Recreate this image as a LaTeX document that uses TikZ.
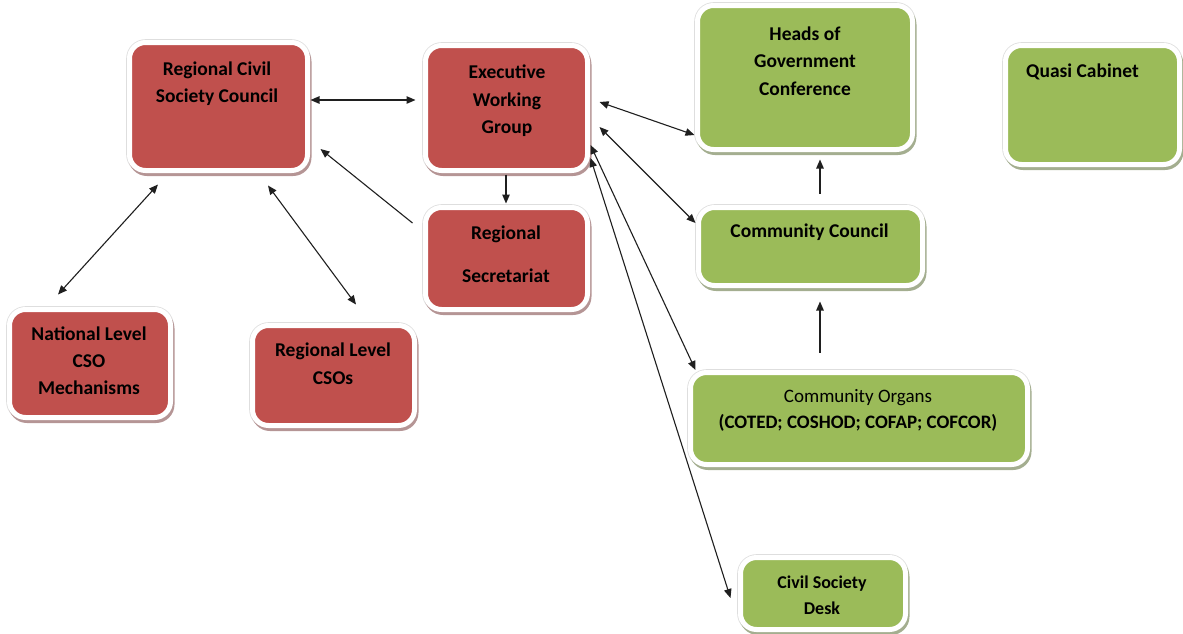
\documentclass[tikz,border=0pt]{standalone}
\usepackage{fontspec}
\setmainfont{Carlito}
\usetikzlibrary{calc,arrows.meta,shadows}
\definecolor{boxred}{HTML}{C0504D}
\definecolor{boxgreen}{HTML}{9BBB59}
\definecolor{shred}{HTML}{B59595}
\definecolor{shgreen}{HTML}{A4AE90}
\begin{document}
\begin{tikzpicture}[x=1pt,y=-1pt,
  box/.style={rounded corners=16pt, draw=white, line width=5pt, inner sep=0pt,
    preaction={draw=black!13, line width=6.6pt}},
  redbox/.style={box, fill=boxred,
    drop shadow={shadow xshift=1.5pt, shadow yshift=-3pt, fill=shred, draw=shred, line width=5pt, opacity=1}},
  greenbox/.style={box, fill=boxgreen,
    drop shadow={shadow xshift=1.5pt, shadow yshift=-3pt, fill=shgreen, draw=shgreen, line width=5pt, opacity=1}},
  lbl/.style={font=\bfseries\fontsize{19.5}{27.5}\selectfont, align=center, inner sep=0pt, text=black},
  conn/.style={line width=1.1pt, draw=black!88},
  >={Triangle[length=9pt,width=7.5pt]}
]
\useasboundingbox (0,0) rectangle (1183,633);

% boxes
\node[redbox, minimum width=178pt, minimum height=128pt] (rcsc) at (218.5,106.5) {};
\node[redbox, minimum width=162pt, minimum height=125pt] (ewg) at (506.5,108) {};
\node[redbox, minimum width=162pt, minimum height=102pt] (regsec) at (506.5,258.5) {};
\node[redbox, minimum width=161pt, minimum height=108pt] (nat) at (90,363.5) {};
\node[redbox, minimum width=162pt, minimum height=100pt] (rlc) at (333.5,375.5) {};
\node[greenbox, minimum width=215pt, minimum height=144pt] (heads) at (805,77.5) {};
\node[greenbox, minimum width=174pt, minimum height=119pt] (quasi) at (1092.5,105) {};
\node[greenbox, minimum width=224pt, minimum height=78pt] (cc) at (810.5,246.5) {};
\node[greenbox, minimum width=337pt, minimum height=92pt] (co) at (859,418.5) {};
\node[greenbox, minimum width=165pt, minimum height=72pt] (csd) at (823,593.5) {};

% texts
\node[lbl] (rcsc-t) at (217,83.5) {Regional Civil\\Society Council};
\node[lbl] (ewg-t) at (507,101) {Executive\\Working\\Group};
\node[lbl, font=\bfseries\fontsize{19.5}{43}\selectfont] (regsec-t) at (506,254.5) {Regional\\Secretariat};
\node[lbl, font=\bfseries\fontsize{19.5}{27}\selectfont] (nat-t) at (89,361) {National Level\\CSO\\Mechanisms};
\node[lbl, font=\bfseries\fontsize{19.5}{28}\selectfont] (rlc-t) at (333,364) {Regional Level\\CSOs};
\node[lbl] (heads-t) at (805,61) {Heads of\\Government\\Conference};
\node[lbl, anchor=west] (quasi-t) at (1026,72) {Quasi Cabinet};
\node[lbl] (cc-t) at (809.5,232) {Community Council};
\node[lbl, font=\bfseries\fontsize{19}{26}\selectfont] (co-t) at (858,410) {{\mdseries Community Organs}\\(COTED; COSHOD; COFAP; COFCOR)};
\node[lbl, font=\bfseries\fontsize{18}{26}\selectfont] (csd-t) at (822,595) {Civil Society\\Desk};

% connectors
\draw[conn,<->] ($(rcsc.east)+(0.5,-6.5)$) -- ($(ewg.west)+(-7.5,-8)$);
\draw[conn,->] ($(ewg.south)+(-0.5,1.5)$) -- ($(regsec.north)+(-0.5,-1.5)$);
\draw[conn,->] ($(regsec.west)+(-10.5,-35.5)$) -- ($(rcsc.east)+(10.5,42.5)$);
\draw[conn,<->] ($(nat.north)+(-32,-12.5)$) -- ($(rcsc.south)+(-60.5,11.5)$);
\draw[conn,<->] ($(rcsc.south)+(49.5,12.5)$) -- ($(rlc.north)+(22.5,-18.5)$);
\draw[conn,<->] ($(ewg.east)+(9.5,-6)$) -- ($(heads.west)+(-0.5,57.5)$);
\draw[conn,<->] ($(ewg.east)+(9.5,19)$) -- ($(cc.west)+(-0.5,-23.5)$);
\draw[conn,<->] ($(ewg.east)+(0.5,37)$) -- ($(co.west)+(7.5,-48.5)$);
\draw[conn,<->] ($(ewg.east)+(0.5,50)$) -- ($(csd.west)+(-7.5,4.5)$);
\draw[conn,->] ($(cc.north)+(9.5,-11.5)$) -- ($(heads.south)+(15,7.5)$);
\draw[conn,->] ($(co.north)+(-39,-17.5)$) -- ($(cc.south)+(9.5,13.5)$);
\end{tikzpicture}
\end{document}
